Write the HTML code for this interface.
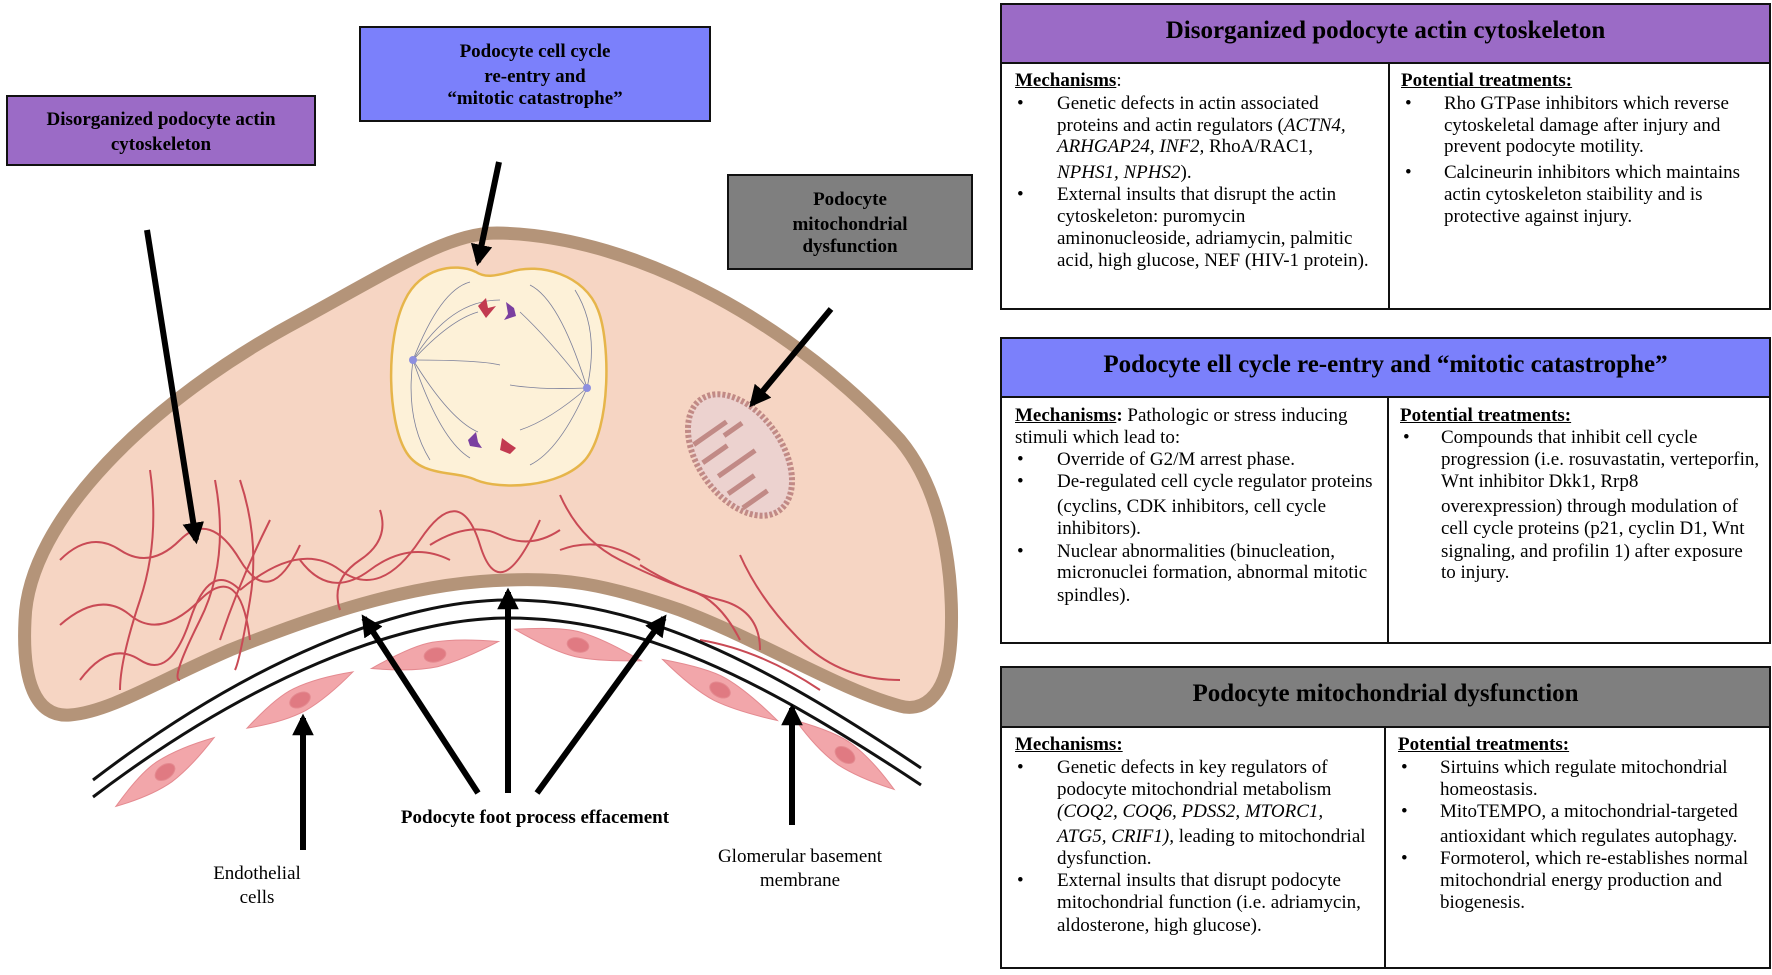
<!DOCTYPE html>
<html><head><meta charset="utf-8">
<style>
html,body{margin:0;padding:0;background:#fff;}
body{width:1772px;height:975px;position:relative;overflow:hidden;font-family:"Liberation Serif",serif;color:#000;}
.box{position:absolute;border:2px solid #111;box-sizing:border-box;font-weight:bold;font-size:19px;text-align:center;}
.box div{position:absolute;left:0;right:0;line-height:22px;}
.tbl{position:absolute;left:1000px;width:771px;border:2px solid #111;box-sizing:border-box;}
.hd{position:absolute;left:0;right:0;top:0;border-bottom:2px solid #111;font-weight:bold;font-size:25px;text-align:center;}
.dv{position:absolute;width:2px;background:#111;}
.l{position:absolute;font-size:19px;white-space:nowrap;line-height:20px;}
.u{font-weight:bold;text-decoration:underline;}
.lab{position:absolute;font-size:19px;text-align:center;white-space:nowrap;line-height:20px;}
</style></head><body>

<svg width="1000" height="975" style="position:absolute;left:0;top:0">
<defs>
<marker id="ah" viewBox="0 0 10 10" refX="8" refY="5" markerWidth="3.6" markerHeight="3.6" orient="auto">
<path d="M0,0 L10,5 L0,10 Z" fill="#000"/></marker>
</defs>
<path d="M497,233 C640,235 800,330 900,440 C950,500 955,600 950,650 C945,700 920,712 900,706 C840,690 760,640 680,610 C600,582 560,578 508,580 C420,582 330,610 230,650 C160,680 110,712 70,715 C35,718 22,680 25,620 C28,520 150,400 300,320 C400,265 450,233 497,233 Z" fill="#f6d5c3" stroke="#b49479" stroke-width="13"/>
<path d="M476,272 C455,262 420,268 405,300 C385,340 388,420 405,450 C420,478 455,470 476,480 C500,490 560,488 585,460 C612,428 610,340 598,310 C585,275 540,262 510,272 C495,276 485,278 476,272 Z" fill="#fdf1d8" stroke="#e6b54a" stroke-width="2.5"/>
<g stroke="#7b7f9a" stroke-width="0.8" fill="none">
<path d="M413,360 Q450,320 478,312"/><path d="M413,360 Q450,300 500,300"/><path d="M413,360 Q450,420 478,432"/><path d="M413,360 Q440,290 470,282"/><path d="M413,360 Q440,440 470,458"/><path d="M413,360 Q480,360 500,365"/>
<path d="M587,388 Q550,420 520,430"/><path d="M587,388 Q550,340 520,312"/><path d="M587,388 Q560,300 530,285"/><path d="M587,388 Q560,450 530,465"/><path d="M587,388 Q540,390 510,385"/><path d="M413,360 Q405,420 430,460"/><path d="M587,388 Q600,330 575,290"/>
</g>
<circle cx="413" cy="360" r="4" fill="#8d8fe0"/><circle cx="587" cy="388" r="4" fill="#8d8fe0"/>
<path d="M478,306 l8,-8 l2,10 l8,-2 l-10,12 Z" fill="#c23a50"/>
<path d="M514,308 l-8,-6 l2,12 l-4,6 l12,-4 Z" fill="#7a3fa0"/>
<path d="M468,440 l8,-8 l2,10 l4,6 l-12,-2 Z" fill="#7a3fa0"/>
<path d="M510,444 l-8,-6 l-2,12 l10,4 l6,-6 Z" fill="#c23a50"/>
<g transform="rotate(-35 740 455)">
<ellipse cx="740" cy="455" rx="42" ry="68" fill="#ecd2cf" stroke="#c18a86" stroke-width="6" stroke-dasharray="3 2"/>
<path d="M708,420 h40 M735,440 h-30 M710,460 h45 M740,480 h-32 M712,500 h30 M760,430 h-22" stroke="#c18a86" stroke-width="5" fill="none"/>
</g>
<g stroke="#c94a55" stroke-width="2" fill="none">
<path d="M60,560 Q90,530 120,550 T180,540 T240,560 T300,545"/>
<path d="M60,625 Q100,590 130,615 T200,600 T250,640"/>
<path d="M80,680 Q110,640 140,660 T190,620 T240,590"/>
<path d="M150,470 Q160,540 140,600 T120,690"/>
<path d="M215,480 Q230,560 200,620 T180,680"/>
<path d="M240,480 Q260,540 250,600 T235,670"/>
<path d="M270,520 Q240,580 220,640"/>
<path d="M240,590 Q300,540 340,570 T420,540 T480,545 T540,520"/>
<path d="M300,560 Q330,600 370,570 T450,560"/>
<path d="M380,510 Q390,540 360,560 T340,610"/>
<path d="M430,545 Q470,520 500,535 T560,530"/>
<path d="M560,495 Q580,540 620,560 T690,590 T740,640"/>
<path d="M560,550 Q600,535 640,560"/>
<path d="M640,565 Q680,590 720,600 T760,650"/>
<path d="M740,555 Q760,600 800,640 T900,680"/>
<path d="M700,640 Q760,650 820,690"/>
</g>
<path d="M93,780 C250,660 400,600 508,600 C640,600 760,660 921,768" fill="none" stroke="#111" stroke-width="3"/>
<path d="M93,797 C250,678 400,618 508,618 C640,618 760,678 921,785" fill="none" stroke="#111" stroke-width="3"/>
<g fill="#f2a6aa" stroke="#e48a90" stroke-width="1">
<g transform="translate(165,772) rotate(-35)"><path d="M-60,0 Q-20,-14 0,-13 Q25,-12 60,0 Q25,11 0,12 Q-25,12 -60,0 Z"/><ellipse cx="0" cy="0" rx="11" ry="7" fill="#e07a82"/></g>
<g transform="translate(300,700) rotate(-28)"><path d="M-60,0 Q-20,-14 0,-13 Q25,-12 60,0 Q25,11 0,12 Q-25,12 -60,0 Z"/><ellipse cx="0" cy="0" rx="11" ry="7" fill="#e07a82"/></g>
<g transform="translate(435,655) rotate(-12)"><path d="M-65,0 Q-20,-14 0,-13 Q25,-12 65,0 Q25,11 0,12 Q-25,12 -65,0 Z"/><ellipse cx="0" cy="0" rx="11" ry="7" fill="#e07a82"/></g>
<g transform="translate(578,645) rotate(14)"><path d="M-65,0 Q-20,-14 0,-13 Q25,-12 65,0 Q25,11 0,12 Q-25,12 -65,0 Z"/><ellipse cx="0" cy="0" rx="11" ry="7" fill="#e07a82"/></g>
<g transform="translate(720,690) rotate(28)"><path d="M-65,0 Q-20,-14 0,-13 Q25,-12 65,0 Q25,11 0,12 Q-25,12 -65,0 Z"/><ellipse cx="0" cy="0" rx="11" ry="7" fill="#e07a82"/></g>
<g transform="translate(845,755) rotate(35)"><path d="M-60,0 Q-20,-14 0,-13 Q25,-12 60,0 Q25,11 0,12 Q-25,12 -60,0 Z"/><ellipse cx="0" cy="0" rx="11" ry="7" fill="#e07a82"/></g>
</g>
<g stroke="#000" stroke-width="6" marker-end="url(#ah)">
<line x1="147" y1="230" x2="196" y2="540"/>
<line x1="499" y1="162" x2="478" y2="262"/>
<line x1="831" y1="309" x2="752" y2="404"/>
<line x1="478" y1="793" x2="364" y2="618"/>
<line x1="508" y1="793" x2="508" y2="592"/>
<line x1="537" y1="793" x2="664" y2="618"/>
<line x1="303" y1="850" x2="303" y2="718"/>
<line x1="792" y1="825" x2="792" y2="708"/>
</g>
</svg>

<div class="box" style="left:6px;top:95px;width:310px;height:71px;background:#9b6bc6">
<div style="top:12px">Disorganized podocyte actin</div><div style="top:37px">cytoskeleton</div></div>
<div class="box" style="left:359px;top:26px;width:352px;height:96px;background:#7b80fb">
<div style="top:13px">Podocyte cell cycle</div><div style="top:38px">re-entry and</div><div style="top:60px">“mitotic catastrophe”</div></div>
<div class="box" style="left:727px;top:174px;width:246px;height:96px;background:#7f7f7f">
<div style="top:13px">Podocyte</div><div style="top:38px">mitochondrial</div><div style="top:60px">dysfunction</div></div>

<div class="lab" style="left:385px;top:808px;width:300px;font-weight:bold">Podocyte foot process effacement</div>
<div class="lab" style="left:197px;top:864px;width:120px">Endothelial<br><span style="position:relative;top:4px">cells</span></div>
<div class="lab" style="left:690px;top:847px;width:220px">Glomerular basement<br><span style="position:relative;top:4px">membrane</span></div>

<div class="tbl" style="top:3px;height:307px">
<div class="hd" style="height:57px;line-height:52px;background:#9b6bc6">Disorganized podocyte actin cytoskeleton</div>
<div class="dv" style="left:386px;top:57px;bottom:0"></div>
</div>
<div class="l" style="left:1015px;top:71px"><span class="u">Mechanisms</span>:</div>
<div class="l" style="left:1017px;top:94px">•</div>
<div class="l" style="left:1057px;top:94px">Genetic defects in actin associated</div>
<div class="l" style="left:1057px;top:116px">proteins and actin regulators (<i>ACTN4,</i></div>
<div class="l" style="left:1057px;top:137px"><i>ARHGAP24, INF2,</i> RhoA/RAC1,</div>
<div class="l" style="left:1057px;top:163px"><i>NPHS1, NPHS2</i>).</div>
<div class="l" style="left:1017px;top:185px">•</div>
<div class="l" style="left:1057px;top:185px">External insults that disrupt the actin</div>
<div class="l" style="left:1057px;top:207px">cytoskeleton: puromycin</div>
<div class="l" style="left:1057px;top:229px">aminonucleoside, adriamycin, palmitic</div>
<div class="l" style="left:1057px;top:251px">acid, high glucose, NEF (HIV-1 protein).</div>
<div class="l" style="left:1401px;top:71px"><span class="u">Potential treatments:</span></div>
<div class="l" style="left:1405px;top:94px">•</div>
<div class="l" style="left:1444px;top:94px">Rho GTPase inhibitors which reverse</div>
<div class="l" style="left:1444px;top:116px">cytoskeletal damage after injury and</div>
<div class="l" style="left:1444px;top:137px">prevent podocyte motility.</div>
<div class="l" style="left:1405px;top:163px">•</div>
<div class="l" style="left:1444px;top:163px">Calcineurin inhibitors which maintains</div>
<div class="l" style="left:1444px;top:185px">actin cytoskeleton staibility and is</div>
<div class="l" style="left:1444px;top:207px">protective against injury.</div>

<div class="tbl" style="top:337px;height:307px">
<div class="hd" style="height:57px;line-height:52px;background:#7b80fb">Podocyte ell cycle re-entry and “mitotic catastrophe”</div>
<div class="dv" style="left:385px;top:57px;bottom:0"></div>
</div>
<div class="l" style="left:1015px;top:406px"><span class="u">Mechanisms</span><b>:</b> Pathologic or stress inducing</div>
<div class="l" style="left:1015px;top:428px">stimuli which lead to:</div>
<div class="l" style="left:1017px;top:450px">•</div>
<div class="l" style="left:1057px;top:450px">Override of G2/M arrest phase.</div>
<div class="l" style="left:1017px;top:472px">•</div>
<div class="l" style="left:1057px;top:472px">De-regulated cell cycle regulator proteins</div>
<div class="l" style="left:1057px;top:497px">(cyclins, CDK inhibitors, cell cycle</div>
<div class="l" style="left:1057px;top:519px">inhibitors).</div>
<div class="l" style="left:1017px;top:542px">•</div>
<div class="l" style="left:1057px;top:542px">Nuclear abnormalities (binucleation,</div>
<div class="l" style="left:1057px;top:563px">micronuclei formation, abnormal mitotic</div>
<div class="l" style="left:1057px;top:586px">spindles).</div>
<div class="l" style="left:1400px;top:406px"><span class="u">Potential treatments:</span></div>
<div class="l" style="left:1403px;top:428px">•</div>
<div class="l" style="left:1441px;top:428px">Compounds that inhibit cell cycle</div>
<div class="l" style="left:1441px;top:450px">progression (i.e. rosuvastatin, verteporfin,</div>
<div class="l" style="left:1441px;top:472px">Wnt inhibitor Dkk1, Rrp8</div>
<div class="l" style="left:1441px;top:497px">overexpression) through modulation of</div>
<div class="l" style="left:1441px;top:519px">cell cycle proteins (p21, cyclin D1, Wnt</div>
<div class="l" style="left:1441px;top:542px">signaling, and profilin 1) after exposure</div>
<div class="l" style="left:1441px;top:563px">to injury.</div>

<div class="tbl" style="top:666px;height:303px">
<div class="hd" style="height:58px;line-height:52px;background:#7f7f7f">Podocyte mitochondrial dysfunction</div>
<div class="dv" style="left:382px;top:58px;bottom:0"></div>
</div>
<div class="l" style="left:1015px;top:735px"><span class="u">Mechanisms:</span></div>
<div class="l" style="left:1017px;top:758px">•</div>
<div class="l" style="left:1057px;top:758px">Genetic defects in key regulators of</div>
<div class="l" style="left:1057px;top:780px">podocyte mitochondrial metabolism</div>
<div class="l" style="left:1057px;top:802px"><i>(COQ2, COQ6, PDSS2, MTORC1,</i></div>
<div class="l" style="left:1057px;top:827px"><i>ATG5, CRIF1),</i> leading to mitochondrial</div>
<div class="l" style="left:1057px;top:849px">dysfunction.</div>
<div class="l" style="left:1017px;top:871px">•</div>
<div class="l" style="left:1057px;top:871px">External insults that disrupt podocyte</div>
<div class="l" style="left:1057px;top:893px">mitochondrial function (i.e. adriamycin,</div>
<div class="l" style="left:1057px;top:916px">aldosterone, high glucose).</div>
<div class="l" style="left:1398px;top:735px"><span class="u">Potential treatments:</span></div>
<div class="l" style="left:1401px;top:758px">•</div>
<div class="l" style="left:1440px;top:758px">Sirtuins which regulate mitochondrial</div>
<div class="l" style="left:1440px;top:780px">homeostasis.</div>
<div class="l" style="left:1401px;top:802px">•</div>
<div class="l" style="left:1440px;top:802px">MitoTEMPO, a mitochondrial-targeted</div>
<div class="l" style="left:1440px;top:827px">antioxidant which regulates autophagy.</div>
<div class="l" style="left:1401px;top:849px">•</div>
<div class="l" style="left:1440px;top:849px">Formoterol, which re-establishes normal</div>
<div class="l" style="left:1440px;top:871px">mitochondrial energy production and</div>
<div class="l" style="left:1440px;top:893px">biogenesis.</div>
</body></html>
